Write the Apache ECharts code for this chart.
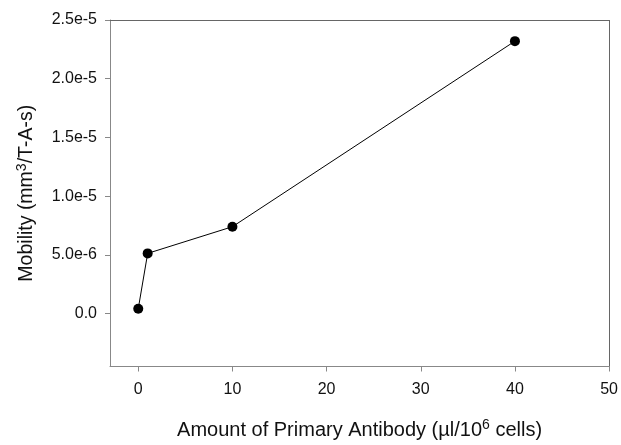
<!DOCTYPE html>
<html>
<head>
<meta charset="utf-8">
<script src="https://cdn.jsdelivr.net/npm/echarts@6/dist/echarts.min.js"></script>
<style>
html, body { margin: 0; padding: 0; background: #fff; }
#mobility { width: 621px; height: 445px; }
</style>
</head>
<body>
<div id="mobility"></div>
<script>
// Data
var antibodyAmount = [0, 1, 10, 40];
var mobilityValues = [0.42e-6, 5.13e-6, 7.4e-6, 23.2e-6];

var xTicks = [0, 10, 20, 30, 40, 50];
var yTicks = [0, 5e-6, 1e-5, 1.5e-5, 2e-5, 2.5e-5];

document.addEventListener('DOMContentLoaded', function() {

    var el = document.getElementById('mobility');
    var chart = echarts.init(el);

    var points = antibodyAmount.map(function(x, i) {
        return [x, mobilityValues[i]];
    });

    var fontFamily = '"Liberation Sans", Arial, sans-serif';
    var axisColor = '#888';
    var supStyle = { fontSize: 14, verticalAlign: 'top', padding: [0, 0, 9, 0], color: '#111' };

    chart.setOption({
        animation: false,
        textStyle: { fontFamily: fontFamily },

        grid: { left: 110, right: 10, top: 20, bottom: 75 },

        xAxis: {
            type: 'value',
            min: -3,
            max: 50,
            interval: 10,
            name: 'Amount of Primary Antibody (\u00b5l/10{sup|6} cells)',
            nameLocation: 'middle',
            nameGap: 52,
            nameTextStyle: {
                fontSize: 20,
                color: '#111',
                rich: { sup: supStyle }
            },
            axisLine: { onZero: false, lineStyle: { color: axisColor } },
            axisTick: {
                inside: false, length: 5, lineStyle: { color: axisColor },
                customValues: xTicks
            },
            axisLabel: {
                fontSize: 16, color: '#111', margin: 15,
                customValues: xTicks
            },
            splitLine: { show: false }
        },

        yAxis: {
            type: 'value',
            min: -4.5e-6,
            max: 2.5e-5,
            name: 'Mobility (mm{sup|3}/T-A-s)',
            nameLocation: 'middle',
            nameGap: 72,
            nameTextStyle: {
                fontSize: 19.5,
                color: '#111',
                rich: { sup: supStyle }
            },
            axisLine: { show: true, onZero: false, lineStyle: { color: axisColor } },
            axisTick: {
                show: true, inside: false, length: 5, lineStyle: { color: axisColor },
                customValues: yTicks
            },
            axisLabel: {
                fontSize: 16, color: '#111', margin: 13,
                customValues: yTicks,
                formatter: function(v) {
                    if (Math.abs(v) < 1e-12) return '0.0';
                    return v.toExponential(1);
                }
            },
            splitLine: { show: false }
        },

        series: [{
            type: 'line',
            data: points,
            symbol: 'circle',
            symbolSize: 10,
            itemStyle: { color: '#000' },
            lineStyle: { color: '#000', width: 1 },
            markLine: {
                silent: true,
                symbol: 'none',
                label: { show: false },
                lineStyle: { color: '#666', width: 1, type: 'solid' },
                data: [
                    [{ coord: [-3, 2.5e-5] }, { coord: [50, 2.5e-5] }],
                    [{ coord: [50, -4.5e-6] }, { coord: [50, 2.5e-5] }]
                ]
            }
        }]
    });

    window.addEventListener('resize', function() {
        chart.resize();
    });
});
</script>
</body>
</html>
